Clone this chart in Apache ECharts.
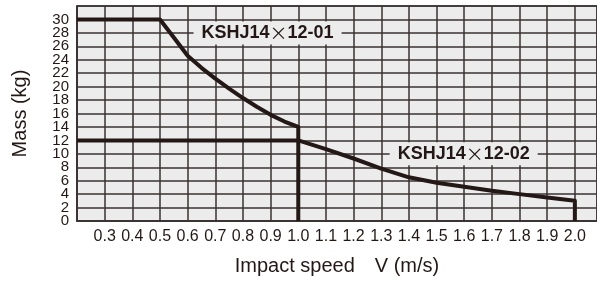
<!DOCTYPE html>
<html>
<head>
    <title>ECharts</title>
    <meta charset="utf-8">
    <style>
        html, body { margin: 0; padding: 0; background: #fff; }
        #main { width: 597px; height: 281px; }
    </style>
</head>
<body>
    <div id="main"></div>
    <script type="text/javascript" src="https://cdn.jsdelivr.net/npm/echarts@6/dist/echarts.min.js"></script>
    <script type="text/javascript">
    // 曲线数据：冲击速度 V (m/s) 与 质量 (kg)
    var speed01 = [0.2, 0.5, 0.55, 0.6, 0.65, 0.7, 0.75, 0.8, 0.85, 0.9, 0.95, 1.0, 1.0];
    var mass01  = [30, 30, 27.3, 24.6, 22.8, 21.2, 19.7, 18.3, 17.0, 15.8, 14.8, 14.0, 0];
    var speed02 = [0.2, 1.0, 1.1, 1.2, 1.3, 1.4, 1.5, 1.6, 1.7, 1.8, 1.9, 2.0, 2.0];
    var mass02  = [12, 12, 10.7, 9.3, 7.8, 6.5, 5.7, 5.1, 4.5, 4.0, 3.5, 3.0, 0];

    var seriesNames = ['KSHJ14×12-01', 'KSHJ14×12-02'];
    var labelAt01 = [0.889, 28];
    var labelAt02 = [1.598, 10];

    var font = '"Liberation Sans", Arial, Helvetica, sans-serif';
    var cjkFont = '"Noto Sans CJK JP", "Noto Sans CJK SC", sans-serif';
    var ink = '#231815';
    var gridColor = '#3a3232';

    function pairs(xs, ys) {
        return xs.map(function (x, i) { return [x, ys[i]]; });
    }

    function tagLabel(coord, name) {
        return {
            symbol: 'circle',
            symbolSize: 1,
            itemStyle: { color: 'rgba(0,0,0,0)' },
            label: {
                show: true,
                position: 'inside',
                formatter: function (p) {
                    return p.name.split('×').map(function (s) {
                        return '{t|' + s + '}';
                    }).join('{x|×}');
                },
                backgroundColor: '#ececec',
                padding: [3, 8, 2, 8],
                rich: {
                    t: { fontFamily: font, fontWeight: 'bold', fontSize: 18, color: ink },
                    x: { fontFamily: cjkFont, fontWeight: 'normal', fontSize: 18, color: ink }
                }
            },
            data: [{ coord: coord, name: name }]
        };
    }

    var yLabelStyle = { margin: 8, fontFamily: font, fontSize: 15, color: ink };

    var myChart = echarts.init(document.getElementById('main'));

    var option = {
        animation: false,
        grid: {
            left: 77,
            right: 0,
            top: 6,
            bottom: 57,
            show: true,
            backgroundColor: '#ececec',
            borderColor: gridColor,
            borderWidth: 1.5
        },
        xAxis: {
            type: 'value',
            min: 0.2,
            max: 2.08,
            interval: 0.1,
            name: 'Impact speed\u3000V (m/s)',
            nameLocation: 'middle',
            nameGap: 35,
            nameTextStyle: { fontFamily: font, fontSize: 20, color: ink },
            axisLine: { show: true, lineStyle: { color: gridColor, width: 1.5 } },
            axisTick: { show: false },
            axisLabel: {
                margin: 8,
                showMinLabel: false,
                showMaxLabel: false,
                fontFamily: font,
                fontSize: 16,
                color: ink,
                formatter: function (v) { return v.toFixed(1); }
            },
            splitLine: { show: true, lineStyle: { color: gridColor, width: 1.5 } }
        },
        yAxis: [
            {
                type: 'value',
                min: 0,
                max: 32,
                interval: 2,
                name: 'Mass (kg)',
                nameLocation: 'middle',
                nameGap: 47,
                nameTextStyle: { fontFamily: font, fontSize: 20, color: ink },
                axisLine: { show: true, lineStyle: { color: gridColor, width: 1.5 } },
                axisTick: { show: false },
                axisLabel: Object.assign({ showMinLabel: false, showMaxLabel: false }, yLabelStyle),
                splitLine: { show: true, lineStyle: { color: gridColor, width: 1.5 } }
            },
            {
                // 只用来显示 0 刻度
                type: 'value',
                position: 'left',
                min: 0,
                max: 32,
                interval: 2,
                axisLine: { show: false },
                axisTick: { show: false },
                splitLine: { show: false },
                axisLabel: Object.assign({
                    showMinLabel: true,
                    showMaxLabel: false,
                    formatter: function (v) { return v === 0 ? '0' : ''; }
                }, yLabelStyle)
            }
        ],
        series: [
            {
                name: seriesNames[0],
                type: 'line',
                data: pairs(speed01, mass01),
                showSymbol: false,
                lineStyle: { color: ink, width: 4, join: 'round' },
                markPoint: tagLabel(labelAt01, seriesNames[0])
            },
            {
                name: seriesNames[1],
                type: 'line',
                data: pairs(speed02, mass02),
                showSymbol: false,
                lineStyle: { color: ink, width: 4, join: 'round' },
                markPoint: tagLabel(labelAt02, seriesNames[1])
            }
        ]
    };

    myChart.setOption(option);
    </script>
</body>
</html>
